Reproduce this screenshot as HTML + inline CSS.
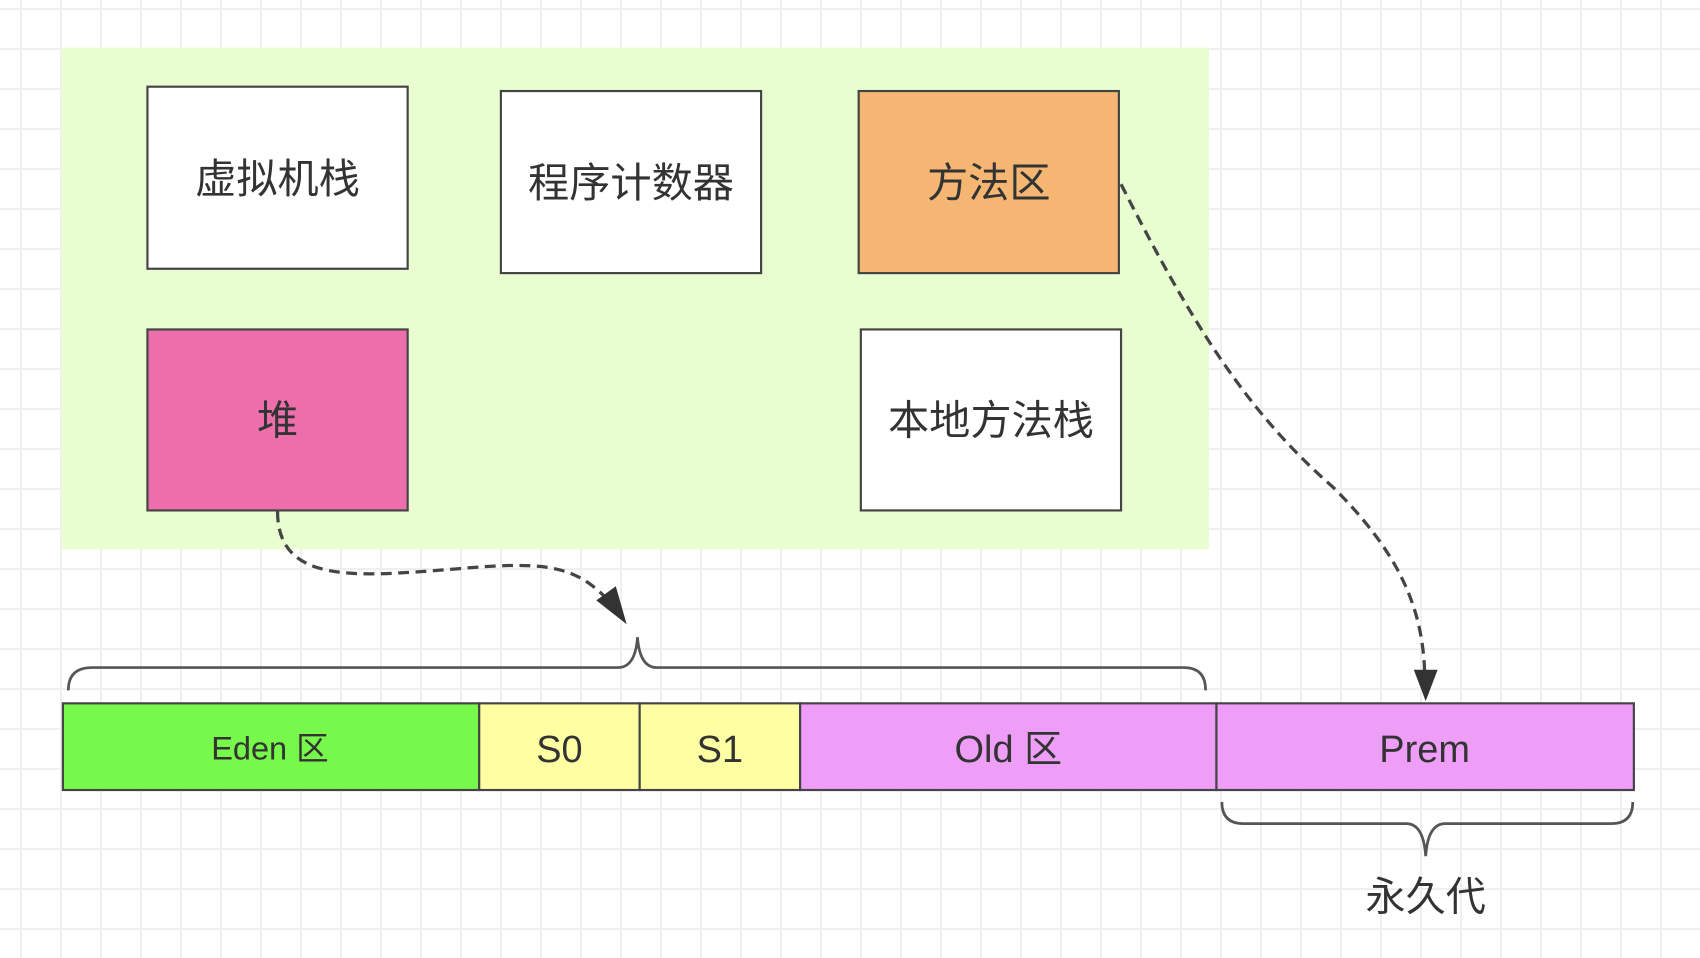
<!DOCTYPE html>
<html><head><meta charset="utf-8"><style>
html,body{margin:0;padding:0;}
body{width:1700px;height:958px;overflow:hidden;background-color:#fff;
background-image:linear-gradient(to right,#efefef 2px,transparent 2px),linear-gradient(to bottom,#efefef 2px,transparent 2px);
background-size:40px 40px;background-position:20px 8px;}
svg{position:absolute;left:0;top:0;}
text{font-family:"Liberation Sans","Noto Sans CJK SC",sans-serif;fill:#333;}
</style></head><body>
<svg width="1700" height="958" viewBox="0 0 1568 884" preserveAspectRatio="none">
<rect x="57" y="44" width="1058" height="463" fill="#e8fdd0"/>
<g stroke="#444" stroke-width="2">
<rect x="136" y="80" width="240" height="168" fill="#fff"/>
<rect x="462" y="84" width="240" height="168" fill="#fff"/>
<rect x="792" y="84" width="240" height="168" fill="#f4b672"/>
<rect x="136" y="304" width="240" height="167" fill="#ec6fac"/>
<rect x="794" y="304" width="240" height="167" fill="#fff"/>
<rect x="58" y="649" width="384" height="80" fill="#76f94a"/>
<rect x="442" y="649" width="148" height="80" fill="#fefea2"/>
<rect x="590" y="649" width="148" height="80" fill="#fefea2"/>
<rect x="738" y="649" width="384" height="80" fill="#ef9ef8"/>
<rect x="1122" y="649" width="385" height="80" fill="#ef9ef8"/>
</g>
<g font-size="38" text-anchor="middle">
<text x="256" y="178">虚拟机栈</text>
<text x="582" y="182">程序计数器</text>
<text x="912" y="182">方法区</text>
<text x="256" y="401">堆</text>
<text x="914" y="401">本地方法栈</text>
<text x="1315" y="840" font-size="37">永久代</text>
</g>
<g font-size="35" text-anchor="middle">
<text x="249" y="701" font-size="30">Eden 区</text>
<text x="516" y="703">S0</text>
<text x="664" y="703">S1</text>
<text x="930" y="703">Old 区</text>
<text x="1314" y="703">Prem</text>
</g>
<g fill="none" stroke="#555" stroke-width="2.5">
<path d="M63,637 Q63,616 85,616 L570,616 Q586,616 588,588 Q590,616 606,616 L1092,616 Q1112,616 1112,637"/>
<path d="M1127,740 Q1127,760 1147,760 L1297,760 Q1313,760 1315,790 Q1317,760 1333,760 L1486,760 Q1506,760 1506,740"/>
</g>
<g fill="none" stroke="#444" stroke-width="3" stroke-dasharray="10,6">
<path d="M256,472 C256,540 330,532 420,525 C500,518 530,520 562,555"/>
<path d="M1034,170 C1100,300 1150,380 1230,450 C1290,510 1312,560 1314,620"/>
</g>
<polygon points="578,576 550,554 568,541" fill="#333"/>
<polygon points="1315,647 1304,618 1326,618" fill="#333"/>
</svg>
</body></html>
